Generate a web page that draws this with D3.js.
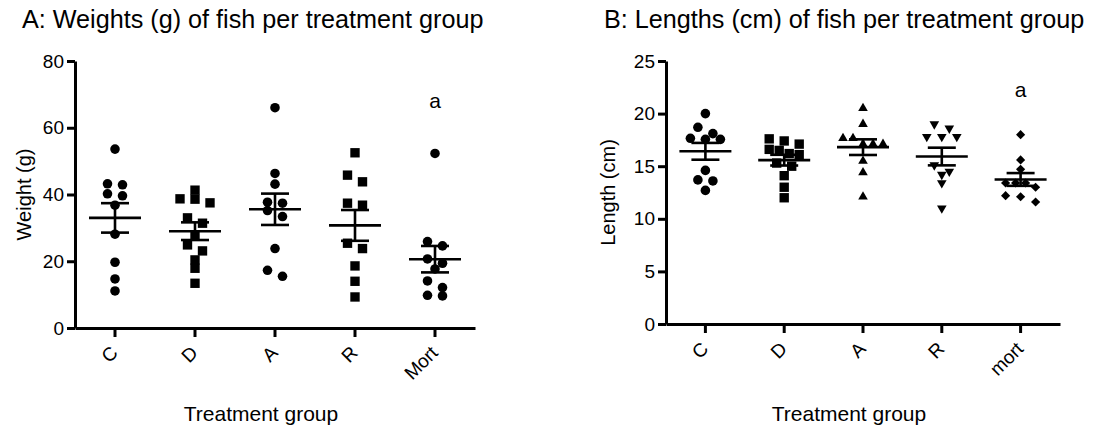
<!DOCTYPE html>
<html>
<head>
<meta charset="utf-8">
<script src="https://cdn.jsdelivr.net/npm/d3@7"></script>
<style>
  body { margin: 0; background: #fff; }
  svg { font-family: "Liberation Sans", Arial, sans-serif; }
  .axis path, .axis line { stroke: #000; stroke-width: 3; }
</style>
</head>
<body>
<div id="chart"></div>
<script>
// weights (g) per group
var weightGroups = ['C', 'D', 'A', 'R', 'Mort'];
var weightC = [53.6, 43.2, 42.9, 40.2, 39.6, 36.8, 28.1, 19.7, 14.7, 11.1];
var weightD = [41.3, 38.7, 38.6, 37.5, 33.0, 31.4, 27.9, 24.9, 23.1, 20.4, 17.9, 13.4];
var weightA = [66.0, 46.3, 43.1, 37.7, 37.4, 35.2, 33.4, 23.8, 17.3, 15.5];
var weightR = [52.5, 45.8, 43.8, 37.4, 36.8, 25.4, 23.8, 18.6, 14.0, 9.3];
var weightMort = [52.3, 25.9, 24.6, 20.7, 19.4, 17.7, 14.1, 12.1, 9.8, 9.6];
var weightTicks = [0, 20, 40, 60, 80];

// lengths (cm) per group
var lengthGroups = ['C', 'D', 'A', 'R', 'mort'];
var lengthC = [20.0, 18.7, 18.1, 17.65, 17.55, 17.55, 14.6, 13.7, 13.6, 12.7];
var lengthD = [17.6, 17.4, 17.1, 16.6, 16.5, 16.2, 16.1, 15.3, 15.0, 14.1, 13.0, 12.0];
var lengthA = [20.5, 19.0, 17.65, 17.65, 17.1, 17.1, 17.1, 15.5, 14.4, 12.1];
var lengthR = [19.0, 18.6, 17.8, 17.8, 17.8, 15.1, 14.5, 14.2, 13.4, 11.0];
var lengthMort = [18.0, 15.6, 14.7, 13.4, 13.4, 13.4, 13.0, 12.2, 12.1, 11.6];
var lengthTicks = [0, 5, 10, 15, 20, 25];

var svg = d3.select('#chart').append('svg')
  .attr('width', 1095)
  .attr('height', 432);

// markers
var circle = d3.symbol().type(d3.symbolCircle).size(72)();
var square = d3.symbol().type(d3.symbolSquare).size(88)();
var tri = d3.symbol().type(d3.symbolTriangle).size(40)();
var diamond = d3.symbol().type(d3.symbolSquare).size(42)();
var shapes = {
  circle: { d: circle, rot: 0 },
  square: { d: square, rot: 0 },
  up: { d: tri, rot: 0 },
  down: { d: tri, rot: 180 },
  diamond: { d: diamond, rot: 45 }
};

// scatter spread: points close in height share a row and are spread sideways
var spread = function(ys) {
  var order = ys.map((y, i) => i).sort((a, b) => ys[a] - ys[b]);
  var out = new Array(ys.length);
  var rows = [];
  order.forEach(i => {
    var row = rows[rows.length - 1];
    if (row && ys[i] - ys[row[0]] < 8) row.push(i);
    else rows.push([i]);
  });
  rows.forEach(row => {
    var n = row.length;
    var s = n <= 3 ? 15 : 10;
    row.forEach((i, j) => { out[i] = (j - (n - 1) / 2) * s; });
  });
  return out;
};

var draw_panel = function(opt) {
  var x = d3.scaleBand().domain(opt.groups).range(opt.xRange);
  var y = d3.scaleLinear().domain(opt.yDomain).range(opt.yRange);
  var g = svg.append('g');

  g.append('text')
    .attr('x', opt.titleX).attr('y', 28)
    .attr('font-size', 25.2)
    .text(opt.title);

  g.append('g').attr('class', 'axis')
    .attr('transform', 'translate(' + opt.xRange[0] + ',0)')
    .call(d3.axisLeft(y).tickValues(opt.ticks).tickSize(8).tickSizeOuter(0).tickPadding(3))
    .selectAll('text').attr('font-size', 19).attr('fill', '#000')
    .attr('font-family', '"Liberation Sans", Arial, sans-serif');

  var xa = g.append('g').attr('class', 'axis')
    .attr('transform', 'translate(0,' + opt.yRange[0] + ')')
    .call(d3.axisBottom(x).tickSize(9).tickSizeOuter(0));
  xa.selectAll('text')
    .attr('font-size', 19).attr('fill', '#000')
    .attr('font-family', '"Liberation Sans", Arial, sans-serif')
    .attr('text-anchor', 'end')
    .attr('y', 0).attr('dy', 0)
    .attr('transform', 'translate(4,26) rotate(-45)');

  g.append('text')
    .attr('transform', 'translate(' + opt.yLabelX + ',' + (opt.yRange[0] + opt.yRange[1]) / 2 + ') rotate(-90)')
    .attr('text-anchor', 'middle')
    .attr('dy', '0.35em')
    .attr('font-size', 20)
    .text(opt.yLabel);

  g.append('text')
    .attr('x', (opt.xRange[0] + opt.xRange[1]) / 2 - 14)
    .attr('y', 421)
    .attr('text-anchor', 'middle')
    .attr('font-size', 21)
    .text('Treatment group');

  opt.series.forEach((vals, k) => {
    var cx = x(opt.groups[k]) + x.bandwidth() / 2;
    var offs = spread(vals.map(v => y(v)));
    var sh = shapes[opt.shapes[k]];
    g.append('g').selectAll('path')
      .data(vals)
      .enter()
      .append('path')
      .attr('d', sh.d)
      .attr('transform', (d, i) => 'translate(' + (cx + offs[i]) + ',' + y(d) + ') rotate(' + sh.rot + ')')
      .attr('fill', '#000');

    var m = d3.mean(vals);
    var sem = d3.deviation(vals) / Math.sqrt(vals.length);
    var eb = g.append('g').attr('stroke', '#000').attr('stroke-width', 2.6);
    eb.append('line').attr('x1', cx - 26).attr('x2', cx + 26).attr('y1', y(m)).attr('y2', y(m));
    eb.append('line').attr('x1', cx).attr('x2', cx).attr('y1', y(m + sem)).attr('y2', y(m - sem));
    eb.append('line').attr('x1', cx - 14).attr('x2', cx + 14).attr('y1', y(m + sem)).attr('y2', y(m + sem));
    eb.append('line').attr('x1', cx - 14).attr('x2', cx + 14).attr('y1', y(m - sem)).attr('y2', y(m - sem));
  });

  g.append('text')
    .attr('x', x(opt.groups[4]) + x.bandwidth() / 2)
    .attr('y', opt.letterY)
    .attr('text-anchor', 'middle')
    .attr('font-size', 21)
    .text('a');
};

draw_panel({
  title: 'A: Weights (g) of fish per treatment group',
  titleX: 22,
  groups: weightGroups,
  series: [weightC, weightD, weightA, weightR, weightMort],
  shapes: ['circle', 'square', 'circle', 'square', 'circle'],
  ticks: weightTicks,
  yDomain: [0, 80],
  xRange: [75, 475],
  yRange: [328, 61],
  yLabel: 'Weight (g)',
  yLabelX: 24,
  letterY: 108
});

draw_panel({
  title: 'B: Lengths (cm) of fish per treatment group',
  titleX: 604,
  groups: lengthGroups,
  series: [lengthC, lengthD, lengthA, lengthR, lengthMort],
  shapes: ['circle', 'square', 'up', 'down', 'diamond'],
  ticks: lengthTicks,
  yDomain: [0, 25],
  xRange: [666, 1060],
  yRange: [324, 61],
  yLabel: 'Length (cm)',
  yLabelX: 608,
  letterY: 97
});
</script>
</body>
</html>
